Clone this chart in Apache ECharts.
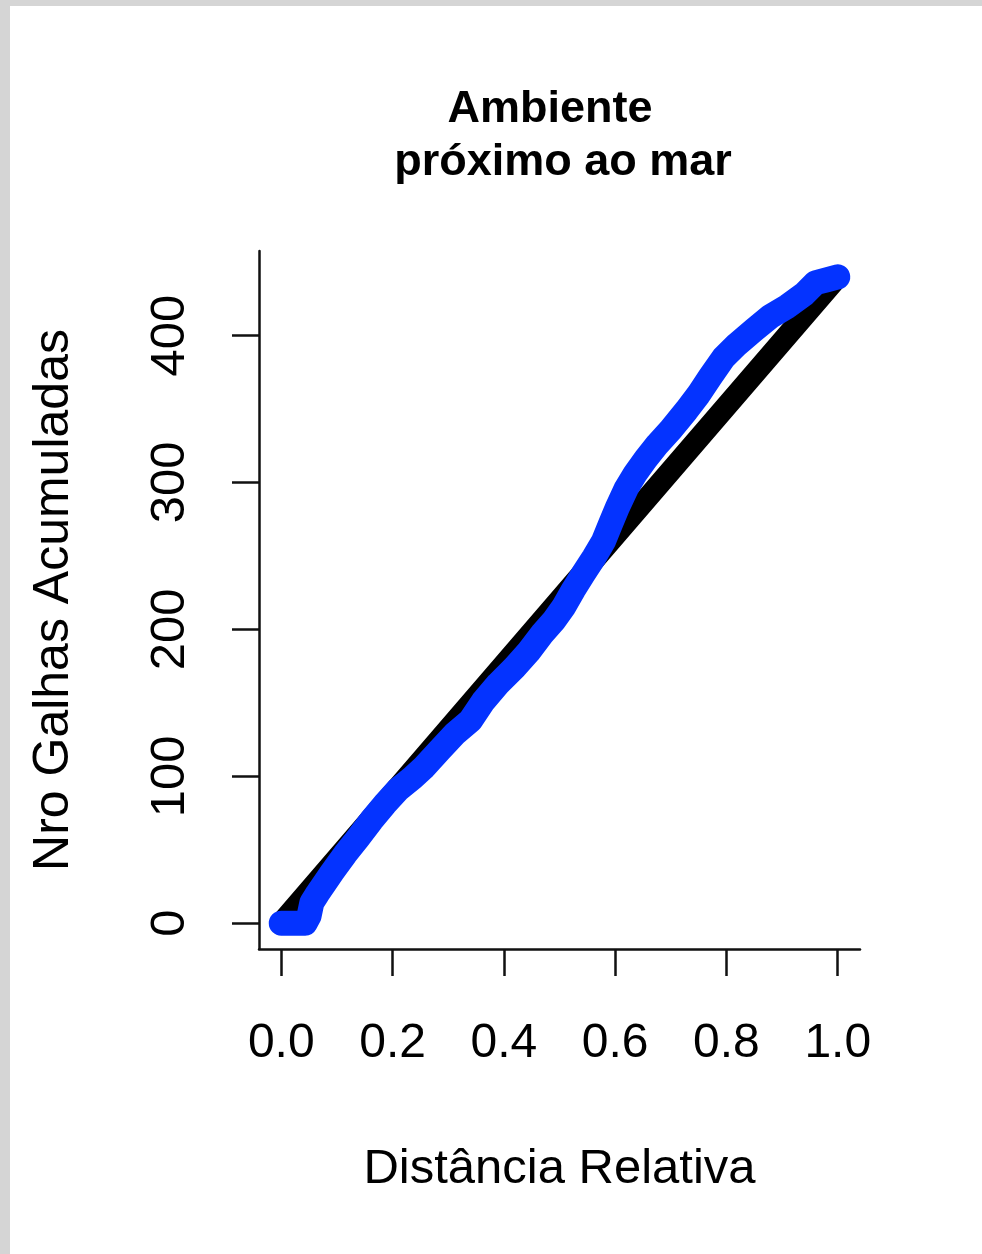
<!DOCTYPE html>
<html>
<head>
<meta charset="utf-8">
<script src="https://cdn.jsdelivr.net/npm/echarts@6/dist/echarts.min.js"></script>
<style>
  html, body { margin: 0; padding: 0; }
  #frame { position: absolute; left: 0; top: 0; width: 982px; height: 1254px; background: #d5d5d5; }
  #chart { position: absolute; left: 10px; top: 6px; width: 972px; height: 1248px; background: #ffffff; }
</style>
</head>
<body>
<div id="frame"></div>
<div id="chart"></div>
<script>
// ---- data ----
const titleLines = ["Ambiente", "próximo ao mar"];
const xTitle = "Distância Relativa";
const yTitle = "Nro Galhas Acumuladas";
const xTicks = [0, 0.2, 0.4, 0.6, 0.8, 1.0];
const yTicks = [0, 100, 200, 300, 400];

// expected (uniform) cumulative line
const expX = [0, 1];
const expY = [0, 440];

// observed cumulative galls vs relative distance
const obsX = [0.000, 0.020, 0.043, 0.050, 0.055, 0.065, 0.092, 0.115, 0.138, 0.162,
              0.186, 0.210, 0.236, 0.256, 0.285, 0.312, 0.340, 0.363, 0.390, 0.419,
              0.445, 0.469, 0.490, 0.507, 0.525, 0.543, 0.562, 0.579, 0.592, 0.604,
              0.620, 0.636, 0.655, 0.676, 0.700, 0.728, 0.750, 0.771, 0.795, 0.819,
              0.850, 0.879, 0.910, 0.939, 0.960, 0.980, 1.000];
const obsY = [0, 0, 0, 5, 14, 20, 35, 47, 58, 70,
              81, 91, 99, 106, 118, 129, 138, 151, 163, 174,
              185, 197, 206, 215, 227, 238, 249, 260, 272, 283,
              296, 306, 316, 326, 336, 349, 360, 372, 385, 394,
              404, 413, 420, 428, 436, 438, 440];

const FONT = "'Liberation Sans', Arial, Helvetica, sans-serif";
const chart = echarts.init(document.getElementById('chart'), null, { renderer: 'canvas' });

const option = {
  animation: false,
  backgroundColor: '#ffffff',
  grid: { left: 249, top: 245, width: 601, height: 698, containLabel: false },
  graphic: [
    { type: 'text', x: 540, y: 104, style: { text: titleLines[0], fill: '#000', font: "bold 45px " + FONT, align: 'center', verticalAlign: 'middle' } },
    { type: 'text', x: 553, y: 157, style: { text: titleLines[1], fill: '#000', font: "bold 45px " + FONT, align: 'center', verticalAlign: 'middle' } }
  ],
  xAxis: {
    type: 'value', min: -0.04, max: 1.04,
    name: xTitle, nameLocation: 'middle', nameGap: 196,
    nameTextStyle: { color: '#000', fontSize: 49, fontFamily: FONT },
    axisLine: { show: true, onZero: false, lineStyle: { color: '#111', width: 2.5 } },
    axisTick: { show: true, length: 27, customValues: xTicks, lineStyle: { color: '#111', width: 2.5 } },
    axisLabel: { customValues: xTicks, margin: 71, color: '#000', fontSize: 48, fontFamily: FONT,
                 formatter: v => v.toFixed(1) },
    splitLine: { show: false }
  },
  yAxis: {
    type: 'value', min: -17.6, max: 457.6,
    name: yTitle, nameLocation: 'middle', nameGap: 180, nameRotate: 90,
    nameTextStyle: { color: '#000', fontSize: 50, fontFamily: FONT },
    axisLine: { show: true, onZero: false, lineStyle: { color: '#111', width: 2.5 } },
    axisTick: { show: true, length: 27, customValues: yTicks, lineStyle: { color: '#111', width: 2.5 } },
    axisLabel: { customValues: yTicks, margin: 64, rotate: 90, color: '#000', fontSize: 49, fontFamily: FONT },
    splitLine: { show: false }
  },
  series: [
    {
      type: 'line', name: 'esperado', clip: false, showSymbol: false, z: 2,
      data: expX.map((x, i) => [x, expY[i]]),
      lineStyle: { color: '#000', width: 22, cap: 'round', join: 'round' }
    },
    {
      type: 'line', name: 'observado', clip: false, showSymbol: false, z: 3,
      data: obsX.map((x, i) => [x, obsY[i]]),
      lineStyle: { color: '#0433ff', width: 25, cap: 'round', join: 'round' }
    }
  ]
};
chart.setOption(option);
</script>
</body>
</html>
